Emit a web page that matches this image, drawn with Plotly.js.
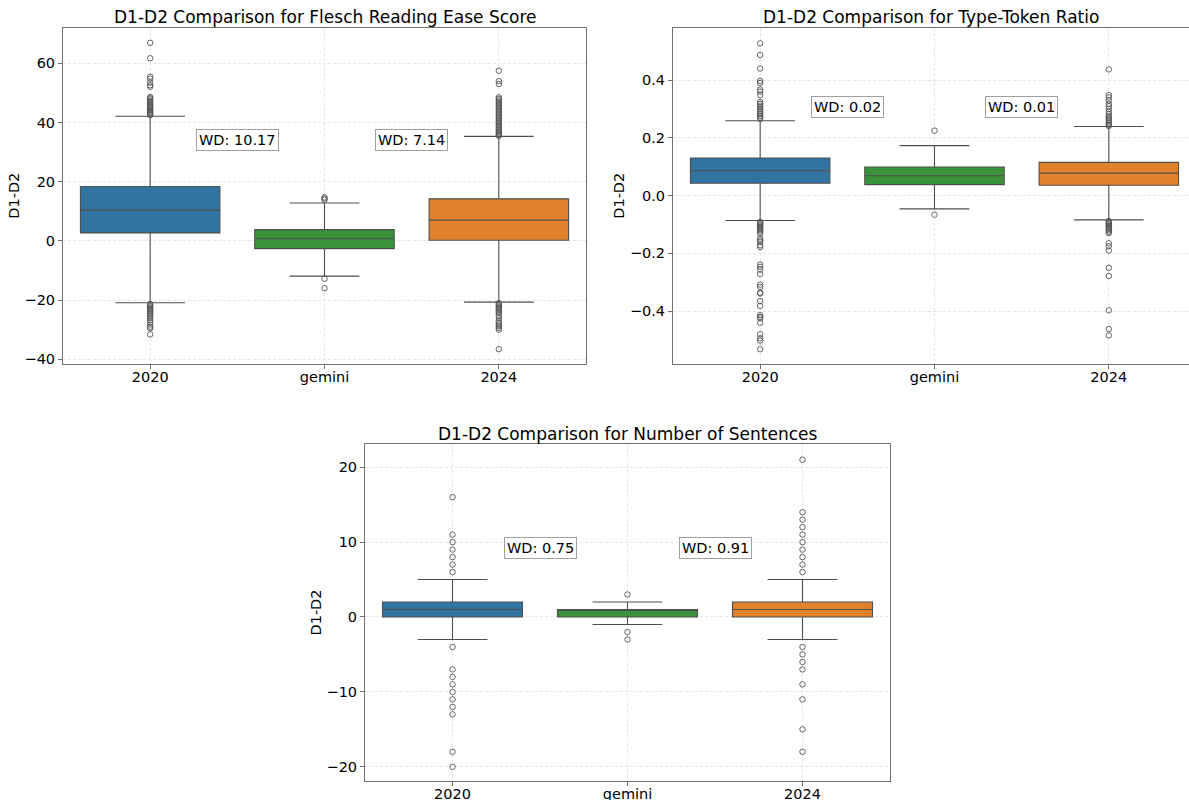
<!DOCTYPE html>
<html>
<head>
<meta charset="utf-8">
<script src="https://cdn.plot.ly/plotly-3.0.1.min.js"></script>
<style>html,body{margin:0;padding:0;background:#fff;}#chart{width:1189px;height:800px;}</style>
</head>
<body>
<div id="chart"></div>
<script>
// ---------- data ----------
const categories = ["2020", "gemini", "2024"];
const boxColors = ["#3274a1", "#3a923a", "#e1812c"];

const panelTitles = [
  "D1-D2 Comparison for Flesch Reading Ease Score",
  "D1-D2 Comparison for Type-Token Ratio",
  "D1-D2 Comparison for Number of Sentences"
];

// Flesch Reading Ease: [2020, gemini, 2024]
const fleschQ1 = [2.7, -2.6, 0.2];
const fleschMedian = [10.4, 0.7, 7.0];
const fleschQ3 = [18.4, 3.8, 14.2];
const fleschLowerWhisker = [-20.9, -11.9, -20.7];
const fleschUpperWhisker = [42.1, 12.8, 35.3];
const fleschOutliers2020 = [66.9, 61.7, 55.5, 54.8, 53.5, 52.6, 52.1, 48.6, 48.2, 47.8, 47.3, 46.9, 46.4, 46.0, 45.6, 45.2, 44.8, 44.4, 44.0, 43.6, 43.2, 42.8, 42.5,
  -21.3, -21.7, -22.1, -22.5, -22.9, -23.3, -23.8, -24.3, -24.8, -25.4, -26.0, -26.8, -27.5, -28.3, -29.0, -29.5, -31.6];
const fleschOutliersGemini = [14.7, 14.3, 13.9, -12.8, -16.0];
const fleschOutliers2024 = [57.5, 54.0, 53.0, 48.5, 48.0, 47.5, 47.0, 46.5, 46.0, 45.5, 45.0, 44.5, 44.0, 43.5, 43.0, 42.5, 42.0, 41.5, 41.0, 40.5, 40.0, 39.5, 39.0, 38.5, 38.0, 37.5, 37.0, 36.6, 36.2, 35.8, 35.5,
  -21.0, -21.4, -21.8, -22.2, -22.6, -23.0, -23.5, -24.0, -24.5, -25.2, -26.0, -27.0, -27.6, -28.2, -28.8, -29.4, -30.0, -36.6];
const fleschWD = ["WD: 10.17", "WD: 7.14"];

// Type-Token Ratio
const ttrQ1 = [0.043, 0.038, 0.036];
const ttrMedian = [0.086, 0.069, 0.078];
const ttrQ3 = [0.130, 0.099, 0.115];
const ttrLowerWhisker = [-0.086, -0.046, -0.084];
const ttrUpperWhisker = [0.259, 0.173, 0.239];
const ttrOutliers2020 = [0.527, 0.487, 0.440, 0.397, 0.390, 0.367, 0.360, 0.348, 0.324, 0.318, 0.312, 0.306, 0.300, 0.294, 0.288, 0.282, 0.276, 0.270, 0.265,
  -0.091, -0.095, -0.099, -0.103, -0.107, -0.111, -0.115, -0.120, -0.125, -0.132, -0.149, -0.155, -0.160, -0.172, -0.178, -0.239, -0.247, -0.256, -0.272, -0.308, -0.316, -0.336, -0.339, -0.365, -0.382, -0.414, -0.420, -0.425, -0.440, -0.480, -0.494, -0.502, -0.532];
const ttrOutliersGemini = [0.225, -0.066];
const ttrOutliers2024 = [0.437, 0.348, 0.340, 0.330, 0.318, 0.310, 0.300, 0.290, 0.282, 0.275, 0.268, 0.262, 0.256, 0.250, 0.245, 0.241,
  -0.088, -0.091, -0.095, -0.099, -0.103, -0.107, -0.111, -0.115, -0.120, -0.125, -0.130, -0.165, -0.175, -0.190, -0.250, -0.278, -0.397, -0.462, -0.484];
const ttrWD = ["WD: 0.02", "WD: 0.01"];

// Number of Sentences
const sentQ1 = [0, 0, 0];
const sentMedian = [1, 1, 1];
const sentQ3 = [2, 1, 2];
const sentLowerWhisker = [-3, -1, -3];
const sentUpperWhisker = [5, 2, 5];
const sentOutliers2020 = [6, 7, 8, 9, 10, 11, 16, -4, -7, -8, -9, -10, -11, -12, -13, -18, -20];
const sentOutliersGemini = [3, -2, -3];
const sentOutliers2024 = [6, 7, 8, 9, 10, 11, 12, 13, 14, 21, -4, -5, -6, -7, -9, -11, -15, -18];
const sentWD = ["WD: 0.75", "WD: 0.91"];

// ---------- build ----------
const FONT = "DejaVu Sans, Liberation Sans, Arial, sans-serif";
const LINE = "#4f4f4f";
const traces = [];
const annotations = [];

function addPanel(ax, q1, med, q3, lo, hi, outs, wd, wdY) {
  const xa = ax === 1 ? "x" : "x" + ax;
  const ya = ax === 1 ? "y" : "y" + ax;
  categories.forEach((c, i) => {
    traces.push({
      type: "box", xaxis: xa, yaxis: ya,
      x: [c], q1: [q1[i]], median: [med[i]], q3: [q3[i]],
      lowerfence: [lo[i]], upperfence: [hi[i]],
      width: 0.8, whiskerwidth: 0.5,
      fillcolor: boxColors[i],
      line: { color: LINE, width: 1.1 },
      boxpoints: false, showlegend: false, hoverinfo: "skip"
    });
    traces.push({
      type: "scatter", mode: "markers", xaxis: xa, yaxis: ya,
      x: outs[i].map(() => c), y: outs[i],
      marker: { symbol: "circle-open", size: 5.5, color: "#555", line: { width: 0.9, color: "#555" } },
      showlegend: false, hoverinfo: "skip"
    });
  });
  wd.forEach((t, k) => {
    annotations.push({
      xref: xa, yref: ya, x: k + 0.5, y: wdY, text: t, showarrow: false,
      font: { family: FONT, size: 14.5, color: "#000" },
      bgcolor: "#fff", bordercolor: "#a0a0a0", borderwidth: 1, borderpad: 2
    });
  });
}

addPanel(1, fleschQ1, fleschMedian, fleschQ3, fleschLowerWhisker, fleschUpperWhisker,
  [fleschOutliers2020, fleschOutliersGemini, fleschOutliers2024], fleschWD, 34);
addPanel(2, ttrQ1, ttrMedian, ttrQ3, ttrLowerWhisker, ttrUpperWhisker,
  [ttrOutliers2020, ttrOutliersGemini, ttrOutliers2024], ttrWD, 0.308);
addPanel(3, sentQ1, sentMedian, sentQ3, sentLowerWhisker, sentUpperWhisker,
  [sentOutliers2020, sentOutliersGemini, sentOutliers2024], sentWD, 9.2);

// panel titles
const titlePos = [[325, 17], [931, 17], [627.5, 434]];
titlePos.forEach((p, i) => {
  annotations.push({
    xref: "paper", yref: "paper", x: p[0] / 1189, y: 1 - p[1] / 800,
    xanchor: "center", yanchor: "middle", showarrow: false,
    text: panelTitles[i], font: { family: FONT, size: 17, color: "#000" }
  });
});

function xAx(domain, range, mirror) {
  return {
    domain: domain, range: range, type: "category",
    categoryorder: "array", categoryarray: categories,
    showline: true, linecolor: "#707070", linewidth: 1, mirror: mirror,
    ticks: "outside", ticklen: 4, tickcolor: "#707070", ticklabelstandoff: -4,
    showgrid: true, gridcolor: "#e0e0e0", griddash: "3px,2px", gridwidth: 0.8,
    zeroline: false, tickfont: { family: FONT, size: 14.5, color: "#000" },
    fixedrange: true
  };
}
function yAx(domain, range, dtick, fmt, mirror) {
  return {
    domain: domain, range: range, dtick: dtick, tick0: 0, tickformat: fmt,
    showline: true, linecolor: "#707070", linewidth: 1, mirror: mirror,
    ticks: "outside", ticklen: 4, tickcolor: "#707070",
    showgrid: true, gridcolor: "#e0e0e0", griddash: "3px,2px", gridwidth: 0.8,
    zeroline: false, tickfont: { family: FONT, size: 14.5, color: "#000" },
    title: { text: "D1-D2", font: { family: FONT, size: 14.5, color: "#000" }, standoff: 1 },
    fixedrange: true
  };
}

const layout = {
  width: 1189, height: 800,
  margin: { l: 0, r: 0, t: 0, b: 0 },
  paper_bgcolor: "#fff", plot_bgcolor: "#fff",
  showlegend: false,
  xaxis: xAx([63 / 1189, 586 / 1189], [-0.5, 2.5], true),
  yaxis: yAx([1 - 364 / 800, 1 - 27.5 / 800], [-41.6, 72.1], 20, "d", true),
  xaxis2: Object.assign(xAx([673 / 1189, 1], [-0.5, 2.46], true), { anchor: "y2" }),
  yaxis2: Object.assign(yAx([1 - 364 / 800, 1 - 27.5 / 800], [-0.583, 0.582], 0.2, ".1f", false), { anchor: "x2" }),
  xaxis3: Object.assign(xAx([365 / 1189, 890 / 1189], [-0.5, 2.5], true), { anchor: "y3" }),
  yaxis3: Object.assign(yAx([1 - 781 / 800, 1 - 444 / 800], [-21.9, 23.1], 10, "d", true), { anchor: "x3" }),
  annotations: annotations
};
layout.xaxis.anchor = "y";
layout.yaxis.anchor = "x";

Plotly.newPlot("chart", traces, layout, { displayModeBar: false, staticPlot: true });
</script>
</body>
</html>
